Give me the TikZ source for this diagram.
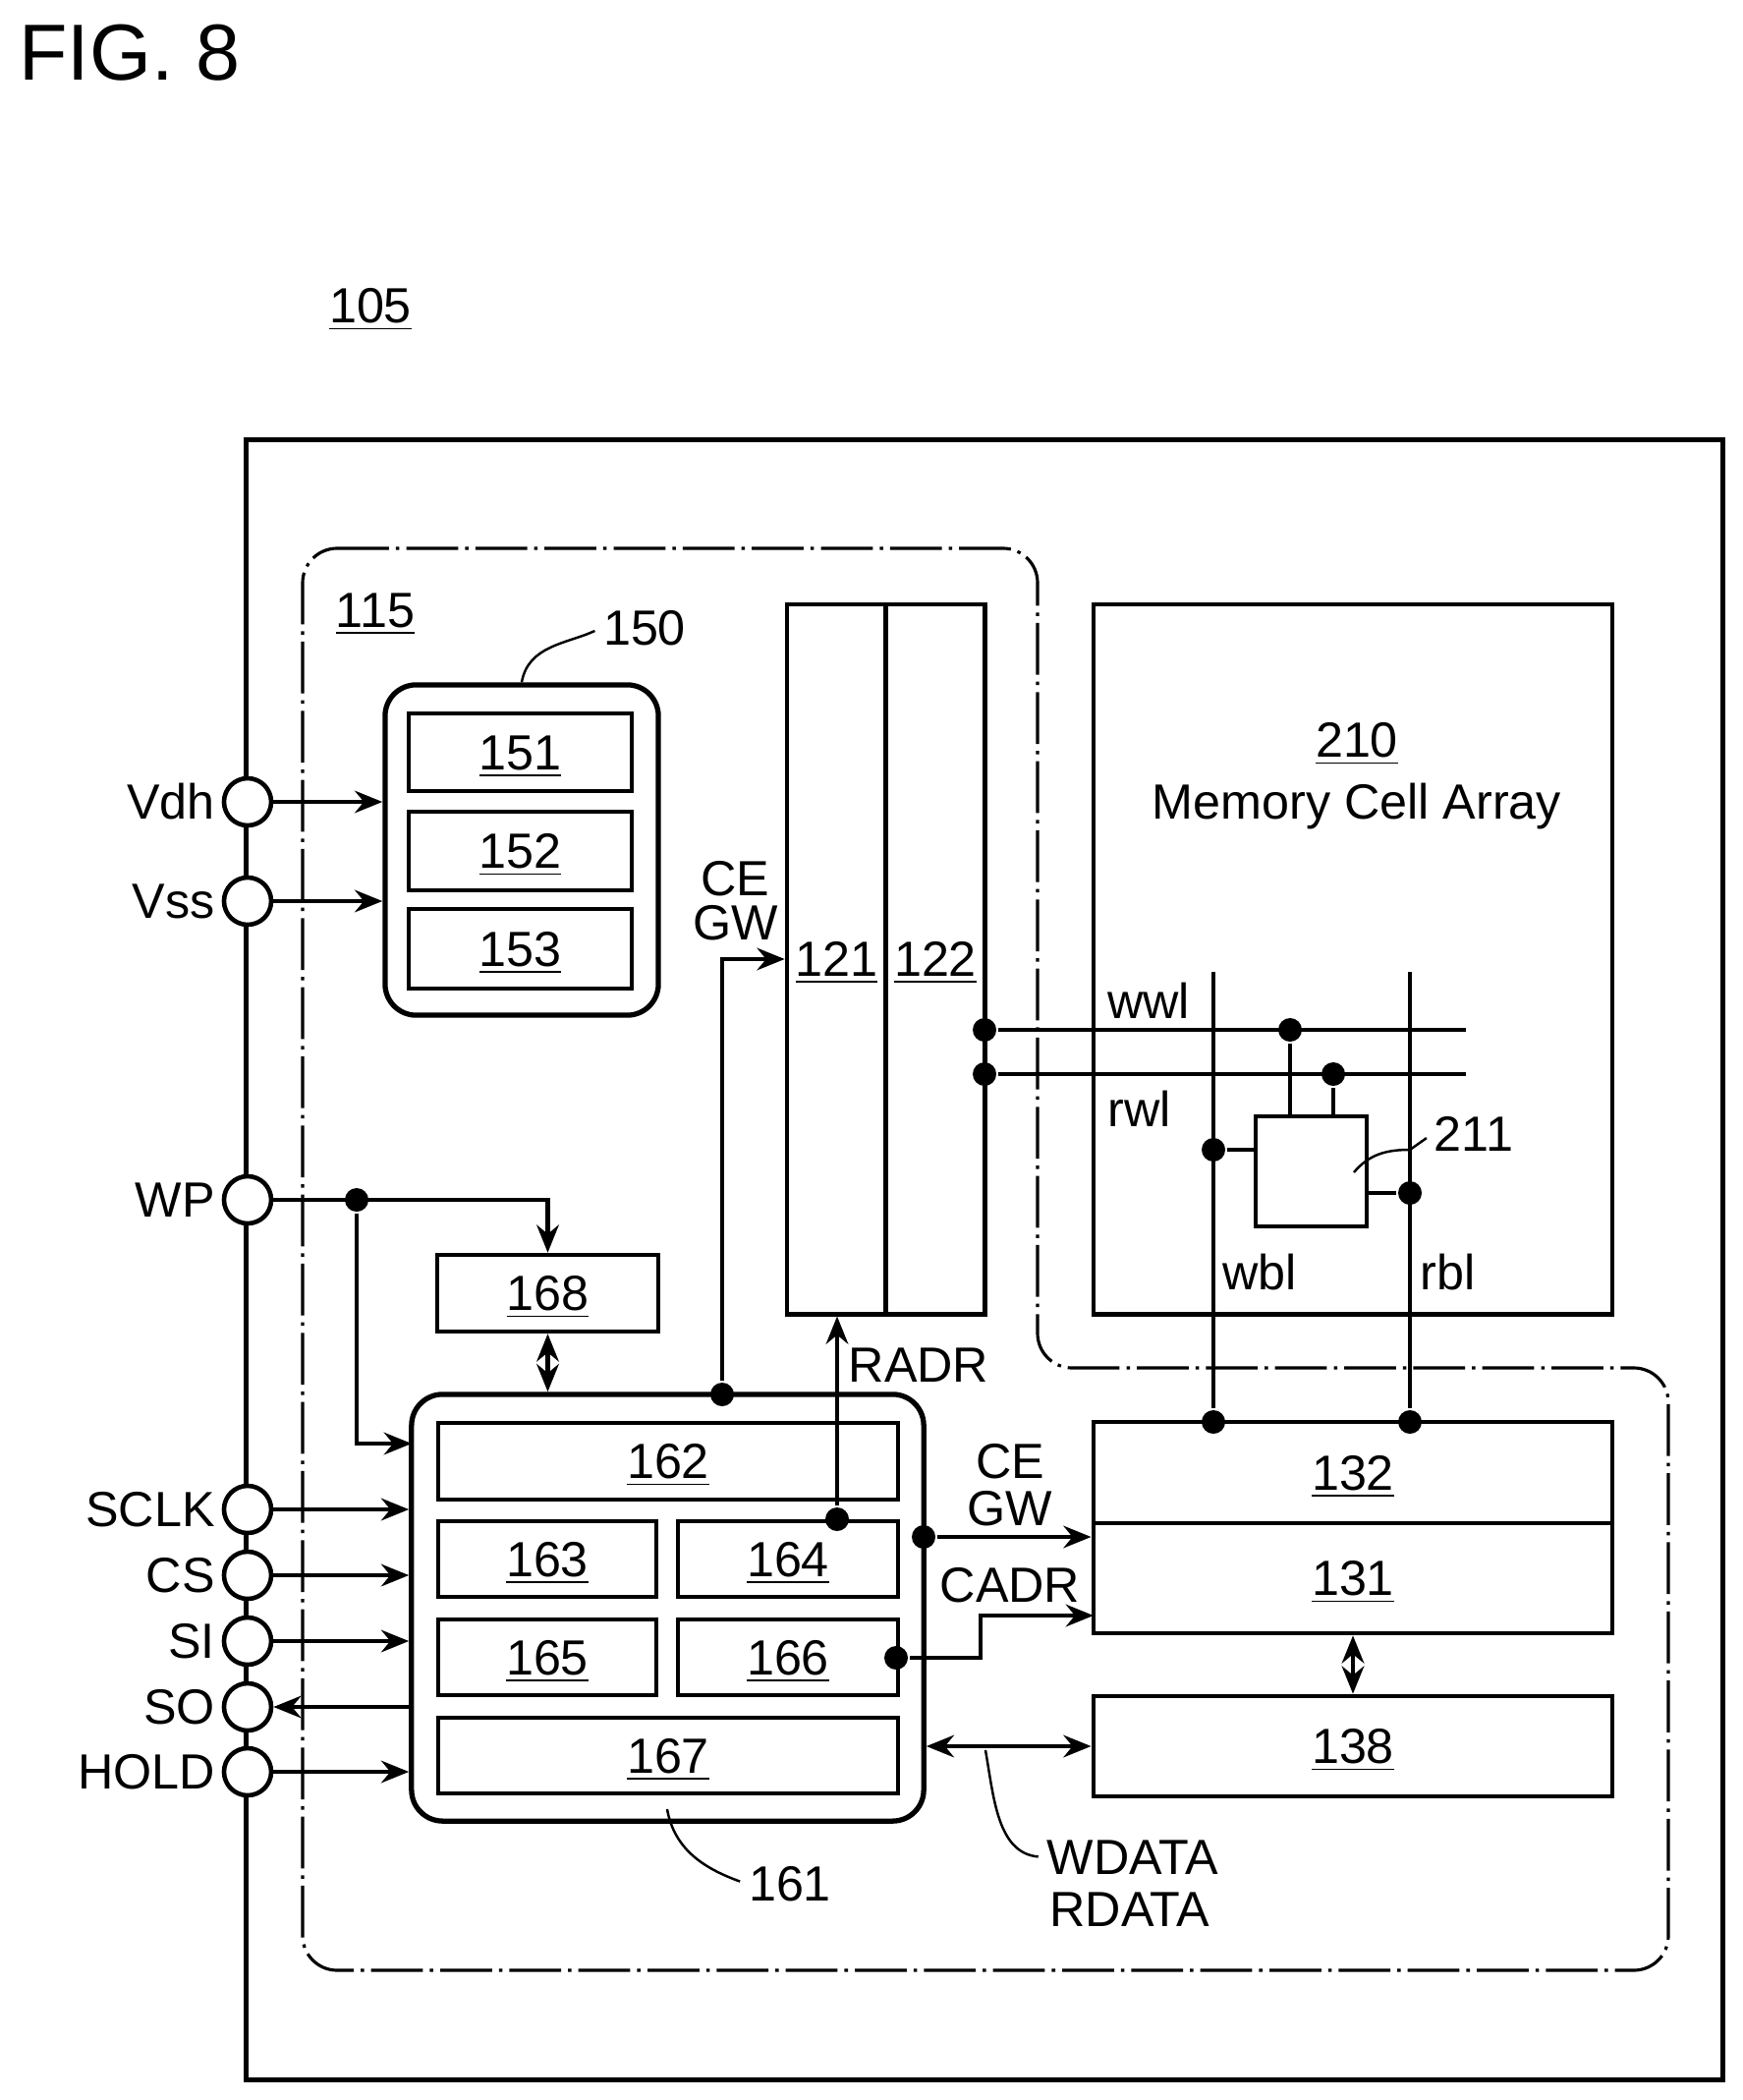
\documentclass[tikz,border=0pt]{standalone}
\usepackage{fontspec}
\setmainfont{Liberation Sans}
\usepackage{tikz}
\usetikzlibrary{arrows.meta}
\tikzset{
    lbl/.style={inner sep=0pt, font=\fontsize{14.3}{16}\selectfont},
    block/.style={draw, rectangle, inner sep=0pt, line width=1.3pt, text height=10.2pt, text depth=0pt, font=\fontsize{14.3}{16}\selectfont},
    group/.style={block, rounded corners=9pt, line width=1.5pt},
    pad/.style={draw, circle, fill=white, inner sep=0pt, minimum size=.48cm, line width=1.3pt},
    dot/.style={circle, fill=black, inner sep=0pt, minimum size=.24cm},
    leader/.style={line width=.7pt, shorten >=2pt}
}

\begin{document}
\begin{tikzpicture}[x=.01cm, y=-.01cm, >={Stealth[length=8pt,width=6.4pt]}, line width=1.3pt]
        \useasboundingbox (0,0) rectangle (1774,2137);

        \draw (17,54) node [inner sep=0pt, anchor=west, font=\fontsize{23}{26}\selectfont] (fig) {FIG. 8};
        \draw (377,315) node [lbl] (t105) {\underline{105}};
        \draw (382,625) node [lbl] (t115) {\underline{115}};

        % frame and control block outline
        \draw (1002,1282) node [block, minimum width=15.02cm, minimum height=16.68cm] (frame) {};
        \draw[line width=.9pt, rounded corners=10pt, dash pattern=on 15pt off 2pt on 1pt off 2pt]
            (308,558) -- (1056,558) -- (1056,1392) -- (1698,1392) -- (1698,2005) -- (308,2005) -- cycle;

        % power
        \draw (531,865) node [group, minimum width=2.78cm, minimum height=3.36cm] (p150) {};
        \draw (529.5,765.5) node [block, minimum width=2.27cm, minimum height=.79cm] (p151) {\underline{151}};
        \draw (529.5,866) node [block, minimum width=2.27cm, minimum height=.80cm] (p152) {\underline{152}};
        \draw (529.5,965.5) node [block, minimum width=2.27cm, minimum height=.81cm] (p153) {\underline{153}};

        % row side
        \draw (851.5,976) node [block, minimum width=1.01cm, minimum height=7.22cm] (p121) {\underline{121}};
        \draw (952,976) node [block, minimum width=1.01cm, minimum height=7.22cm] (p122) {\underline{122}};

        % array
        \draw (1377,976) node [block, minimum width=5.28cm, minimum height=7.22cm] (p210) {};
        \draw (1381,757) node [lbl] (t210) {\underline{210}};
        \draw (1381,820) node [lbl] (tarray) {Memory Cell Array};
        \draw (1334.5,1192) node [block, minimum width=1.13cm, minimum height=1.12cm] (p211) {};

        % column side
        \draw (1377,1498.5) node [block, minimum width=5.28cm, minimum height=1.03cm] (p132) {\underline{132}};
        \draw (1377,1606) node [block, minimum width=5.28cm, minimum height=1.12cm] (p131) {\underline{131}};
        \draw (1377,1777) node [block, minimum width=5.28cm, minimum height=1.02cm] (p138) {\underline{138}};

        % logic
        \draw (557.5,1316) node [block, minimum width=2.25cm, minimum height=.78cm] (p168) {\underline{168}};
        \draw (679.5,1636) node [group, minimum width=5.21cm, minimum height=4.34cm] (p161) {};
        \draw (680,1487) node [block, minimum width=4.68cm, minimum height=.78cm] (p162) {\underline{162}};
        \draw (557,1586.5) node [block, minimum width=2.22cm, minimum height=.77cm] (p163) {\underline{163}};
        \draw (802,1586.5) node [block, minimum width=2.24cm, minimum height=.77cm] (p164) {\underline{164}};
        \draw (557,1686.5) node [block, minimum width=2.22cm, minimum height=.77cm] (p165) {\underline{165}};
        \draw (802,1686.5) node [block, minimum width=2.24cm, minimum height=.77cm] (p166) {\underline{166}};
        \draw (680,1786.5) node [block, minimum width=4.68cm, minimum height=.77cm] (p167) {\underline{167}};

        % pads
        \draw (252,816) node [pad] (vdh) {};
        \draw (252,917) node [pad] (vss) {};
        \draw (252,1221) node [pad] (wp) {};
        \draw (252,1536) node [pad] (sclk) {};
        \draw (252,1603) node [pad] (cs) {};
        \draw (252,1670) node [pad] (si) {};
        \draw (252,1737) node [pad] (so) {};
        \draw (252,1803) node [pad] (hold) {};

        \draw (221,816) node [lbl, anchor=east] (tvdh) {Vdh};
        \draw (221,917) node [lbl, anchor=east] (tvss) {Vss};
        \draw (221,1221) node [lbl, anchor=east] (twp) {WP};
        \draw (221,1536) node [lbl, anchor=east] (tsclk) {SCLK};
        \draw (221,1603) node [lbl, anchor=east] (tcs) {CS};
        \draw (221,1670) node [lbl, anchor=east] (tsi) {SI};
        \draw (221,1737) node [lbl, anchor=east] (tso) {SO};
        \draw (221,1803) node [lbl, anchor=east] (thold) {HOLD};

        % junctions
        \draw (363,1221) node [dot] (jwp) {};
        \draw (735,1419) node [dot] (jce) {};
        \draw (852,1546) node [dot] (jradr) {};
        \draw (940,1564) node [dot] (jcol) {};
        \draw (912,1687) node [dot] (jcadr) {};
        \draw (1002,1048) node [dot] (jwwl) {};
        \draw (1002,1093) node [dot] (jrwl) {};
        \draw (1313,1048) node [dot] (jcw) {};
        \draw (1357,1093) node [dot] (jcr) {};
        \draw (1235,1170) node [dot] (jwbl) {};
        \draw (1435,1214) node [dot] (jrbl) {};
        \draw (1235,1447) node [dot] (jwc) {};
        \draw (1435,1447) node [dot] (jrc) {};

        \coordinate (wwlend) at (1492,1048);
        \coordinate (rwlend) at (1492,1093);
        \coordinate (wbltop) at (1235,989);
        \coordinate (rbltop) at (1435,989);
        \coordinate (wpin) at (419,1469);
        \coordinate (cadrk) at (998,1687);
        \coordinate (cadr) at (1113,1644);

        % pad connections
        \draw[->] (vdh) -- (vdh -| p150.west);
        \draw[->] (vss) -- (vss -| p150.west);
        \draw[->] (sclk) -- (sclk -| p161.west);
        \draw[->] (cs) -- (cs -| p161.west);
        \draw[->] (si) -- (si -| p161.west);
        \draw[<-] (so) -- (so -| p161.west);
        \draw[->] (hold) -- (hold -| p161.west);
        \draw[->] (wp) -| (p168.north);
        \draw[->] (jwp) |- (wpin);

        % buses
        \draw[<->] (p168.south) -- (p168.south |- p161.north);
        \draw[->] (jce) |- (p121.west);
        \draw[->] (jradr) -- (jradr |- p121.south);
        \draw[->] (jcol) -- (jcol -| p131.west);
        \draw[->] (jcadr) -- (cadrk) |- (cadr);
        \draw[<->] (p161.east |- p138) -- (p138.west);
        \draw[<->] (p131.south) -- (p138.north);

        % cell wiring
        \draw (jwwl) -- (wwlend);
        \draw (jrwl) -- (rwlend);
        \draw (wbltop) -- (jwc);
        \draw (rbltop) -- (jrc);
        \draw (jcw) -- (jcw |- p211.north);
        \draw (jcr) -- (jcr |- p211.north);
        \draw (jwbl) -- (jwbl -| p211.west);
        \draw (jrbl) -- (jrbl -| p211.east);

        % signal names
        \draw (748,894) node [lbl] (tce) {CE};
        \draw (749,939) node [lbl] (tgw) {GW};
        \draw (935,1389) node [lbl] (tradr) {RADR};
        \draw (1028,1487) node [lbl] (tce2) {CE};
        \draw (1028,1535) node [lbl] (tgw2) {GW};
        \draw (1028,1613) node [lbl] (tcadr) {CADR};
        \draw (1153,1890) node [lbl] (twdata) {WDATA};
        \draw (1150,1943) node [lbl] (trdata) {RDATA};
        \draw (1125,1018) node [lbl, anchor=west] (twwl) {wwl};
        \draw (1125,1128) node [lbl, anchor=west] (trwl) {rwl};
        \draw (1242,1295) node [lbl, anchor=west] (twbl) {wbl};
        \draw (1443,1295) node [lbl, anchor=west] (trbl) {rbl};

        % reference numerals
        \draw (656,639) node [lbl] (t150) {150};
        \draw (804,1917) node [lbl] (t161) {161};
        \draw (1500,1154) node [lbl] (t211) {211};
        \coordinate (l161) at (679,1841);
        \coordinate (lbus) at (1003,1781);
        \coordinate (l211) at (1378,1193);
        \coordinate (l211b) at (1435,1170);

        \draw[leader] (p150.north) to[out=80, in=205] (t150.west);
        \draw[leader] (l161) to[out=-80, in=160] (t161.west);
        \draw[leader] (lbus) to[out=-80, in=175] (twdata.west);
        \draw[leader] (l211) to[out=50, in=180] (l211b) -- (t211.west);
\end{tikzpicture}
\end{document}
